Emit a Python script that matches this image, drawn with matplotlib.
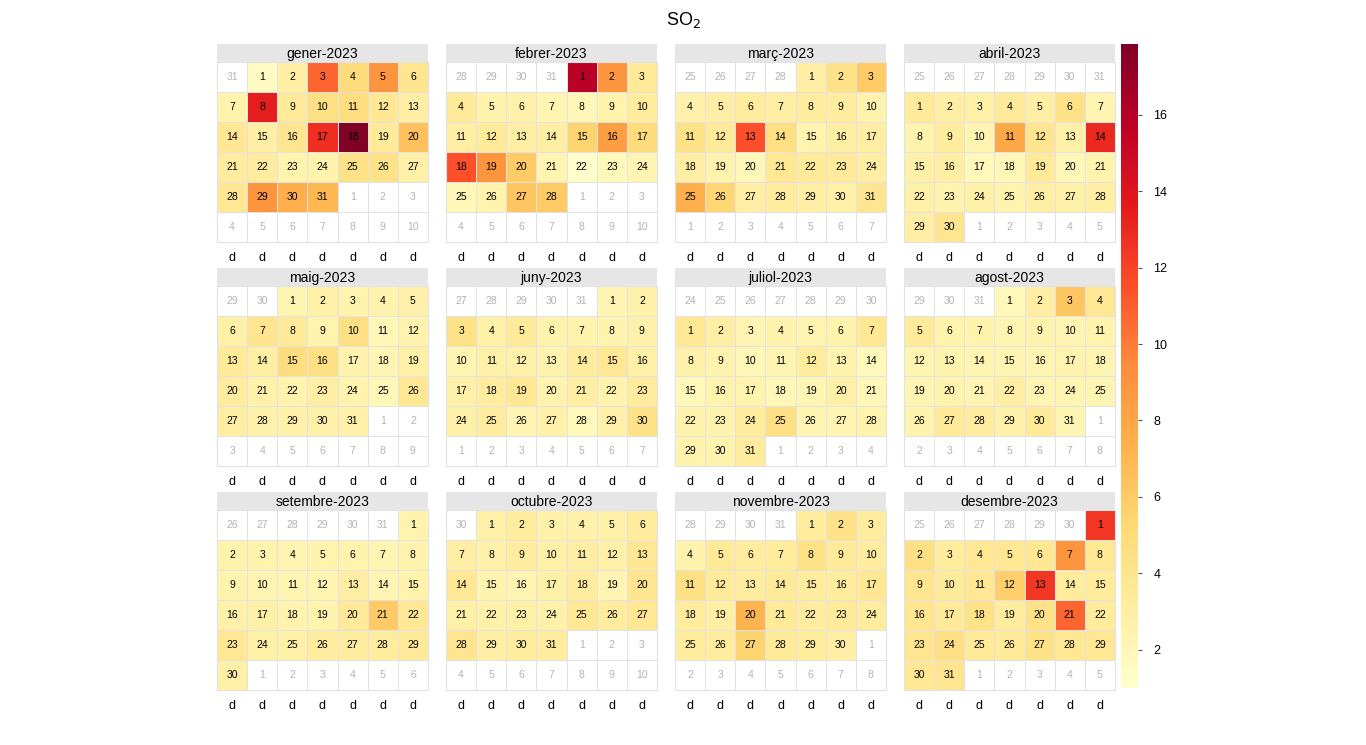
import datetime
import numpy as np
import matplotlib
matplotlib.use('Agg')
import matplotlib.pyplot as plt
from matplotlib.colors import Normalize
from matplotlib.cm import ScalarMappable

plt.rcParams['font.family'] = ['Liberation Sans', 'DejaVu Sans']

year = 2023
month_names = ['gener', 'febrer', 'març', 'abril', 'maig', 'juny',
               'juliol', 'agost', 'setembre', 'octubre', 'novembre', 'desembre']
weekday_labels = ['d', 'd', 'd', 'd', 'd', 'd', 'd']

# daily SO2 values
jan = [1.5, 3.0, 10.8, 5.0, 9.0, 4.0, 2.5, 13.5, 3.5, 4.5, 4.8, 3.8, 3.0, 3.8, 3.0,
       4.0, 12.8, 17.85, 3.5, 6.5, 3.2, 3.2, 2.5, 2.5, 4.3, 4.3, 2.8, 3.8, 9.0, 7.5, 7.0]
feb = [15.8, 9.0, 3.5, 3.5, 2.5, 2.7, 2.3, 2.0, 2.5, 3.3, 3.0, 3.5, 3.0, 3.0, 5.5,
       8.5, 5.0, 11.5, 9.0, 6.0, 2.3, 1.1, 1.8, 2.3, 2.0, 2.5, 6.3, 6.0]
mar = [3.0, 4.3, 6.0, 2.7, 3.0, 3.3, 3.0, 3.3, 3.3, 2.5, 4.3, 3.5, 11.5, 4.5, 2.5,
       3.0, 3.0, 3.0, 2.5, 2.0, 3.8, 3.5, 3.5, 3.0, 7.5, 5.3, 3.0, 3.2, 3.0, 2.8, 4.0]
apr = [3.5, 3.0, 2.8, 3.5, 3.0, 4.3, 2.3, 2.5, 3.3, 2.3, 7.8, 4.0, 2.8, 13.0, 2.8,
       3.0, 1.8, 2.0, 3.5, 2.0, 2.5, 2.8, 2.5, 2.8, 2.5, 3.0, 2.8, 3.0, 3.0, 4.0]
may = [2.2, 2.8, 2.5, 2.5, 2.7, 2.8, 4.0, 3.5, 2.5, 4.5, 2.0, 2.5, 3.5, 3.0, 4.8,
       4.5, 2.5, 2.3, 2.8, 3.2, 2.7, 2.5, 3.0, 2.5, 2.0, 3.7, 3.0, 2.7, 2.7, 2.7, 2.7]
jun = [2.3, 2.7, 4.3, 2.8, 3.5, 2.5, 2.5, 2.5, 2.7, 2.3, 2.8, 2.7, 2.5, 3.2, 3.8,
       2.8, 2.8, 3.2, 3.7, 2.5, 3.0, 2.5, 3.3, 2.7, 3.2, 2.3, 2.7, 1.8, 2.7, 4.3]
jul = [3.8, 3.0, 2.3, 2.5, 2.3, 2.5, 3.8, 2.7, 2.5, 2.0, 2.2, 3.3, 2.5, 1.8, 1.8,
       2.5, 2.5, 2.0, 2.2, 2.8, 2.0, 2.5, 2.5, 3.3, 4.5, 2.3, 2.3, 2.5, 2.5, 2.5, 3.3]
aug = [1.8, 3.0, 6.2, 3.8, 3.5, 2.5, 2.5, 2.2, 2.5, 2.3, 2.5, 2.3, 2.5, 2.3, 2.3,
       2.2, 2.5, 2.2, 2.3, 2.5, 2.3, 3.0, 2.3, 2.2, 2.2, 2.5, 3.5, 3.2, 2.7, 3.5, 2.2]
sep = [2.5, 2.5, 2.5, 2.3, 2.5, 2.5, 2.3, 2.5, 2.5, 2.3, 2.3, 2.3, 3.0, 2.3, 2.5,
       2.7, 2.8, 2.5, 2.5, 3.5, 6.0, 3.8, 3.7, 2.8, 2.8, 3.2, 3.2, 3.3, 3.5, 2.8]
oct_ = [2.8, 3.3, 2.7, 2.7, 2.8, 3.3, 3.0, 2.7, 3.2, 2.8, 3.0, 2.8, 3.8, 3.7, 2.5,
        2.3, 2.8, 3.2, 2.3, 4.0, 2.8, 2.7, 2.8, 2.7, 3.8, 3.3, 3.8, 4.0, 3.0, 3.3, 3.2]
nov = [3.3, 4.3, 3.2, 2.5, 3.5, 3.2, 3.3, 4.3, 3.5, 3.2, 4.5, 3.5, 3.2, 3.5, 3.2,
       3.3, 3.8, 3.3, 3.0, 7.2, 3.5, 3.2, 3.5, 3.2, 3.3, 3.3, 5.5, 3.5, 3.3, 3.0]
dec = [12.5, 4.5, 3.3, 3.7, 3.8, 3.7, 9.0, 3.8, 4.0, 3.5, 3.8, 5.8, 12.5, 3.3, 3.3,
       4.0, 3.5, 4.3, 3.3, 4.3, 10.8, 3.3, 4.0, 4.5, 3.5, 3.5, 4.3, 3.8, 3.8, 3.8, 4.0]
values = [jan, feb, mar, apr, may, jun, jul, aug, sep, oct_, nov, dec]

W, H = 1366, 745
fig = plt.figure(figsize=(W / 100, H / 100), dpi=100)

def px(x0, y0, w, h):
    return [x0 / W, 1 - (y0 + h) / H, w / W, h / H]

cmap = plt.get_cmap('YlOrRd').copy()
cmap.set_bad('white')
norm = Normalize(1.0, 17.85)
grid_col = '#e2e2e2'

for m in range(12):
    r, c = divmod(m, 4)
    x0 = 217 + c * 229
    y0 = 62 + r * 224
    ax = fig.add_axes(px(x0, y0, 211, 180))

    first = datetime.date(year, m + 1, 1)
    off = (first.weekday() - 5) % 7  # weeks start on Saturday
    if off == 0:
        off = 7
    start = first - datetime.timedelta(days=off)

    grid = np.full((6, 7), np.nan)
    for k in range(42):
        d = start + datetime.timedelta(days=k)
        row, col = divmod(k, 7)
        if d.month == m + 1:
            grid[row, col] = values[m][d.day - 1]
            tc = 'black'
        else:
            tc = '#b3b3b3'
        ax.text(col + 0.5, row + 0.5, str(d.day), ha='center', va='center',
                fontsize=7.5, color=tc)

    ax.pcolormesh(np.ma.masked_invalid(grid), cmap=cmap, norm=norm,
                  edgecolors=grid_col, linewidth=0.5)
    ax.set_xlim(0, 7)
    ax.set_ylim(6, 0)
    ax.set_xticks(np.arange(7) + 0.5, labels=weekday_labels)
    ax.set_yticks([])
    ax.tick_params(axis='x', length=0, labelsize=9, pad=7)
    for s in ax.spines.values():
        s.set_color(grid_col)
        s.set_linewidth(0.8)

    strip = fig.add_axes(px(x0, y0 - 18, 211, 18))
    strip.set_facecolor('#e6e6e6')
    strip.set_xticks([])
    strip.set_yticks([])
    for s in strip.spines.values():
        s.set_visible(False)
    strip.text(0.5, 0.45, f'{month_names[m]}-{year}', ha='center', va='center',
               fontsize=10, transform=strip.transAxes)

cax = fig.add_axes(px(1121, 44, 17, 644))
sm = ScalarMappable(norm=norm, cmap=cmap)
cb = fig.colorbar(sm, cax=cax, ticks=range(2, 17, 2))
cb.outline.set_visible(False)
cax.tick_params(length=3, labelsize=9, pad=8, color='#555555')

fig.text(683 / W, 1 - 20 / H, 'SO$_2$', ha='center', va='center', fontsize=13)

fig.savefig('out.png', dpi=100)
